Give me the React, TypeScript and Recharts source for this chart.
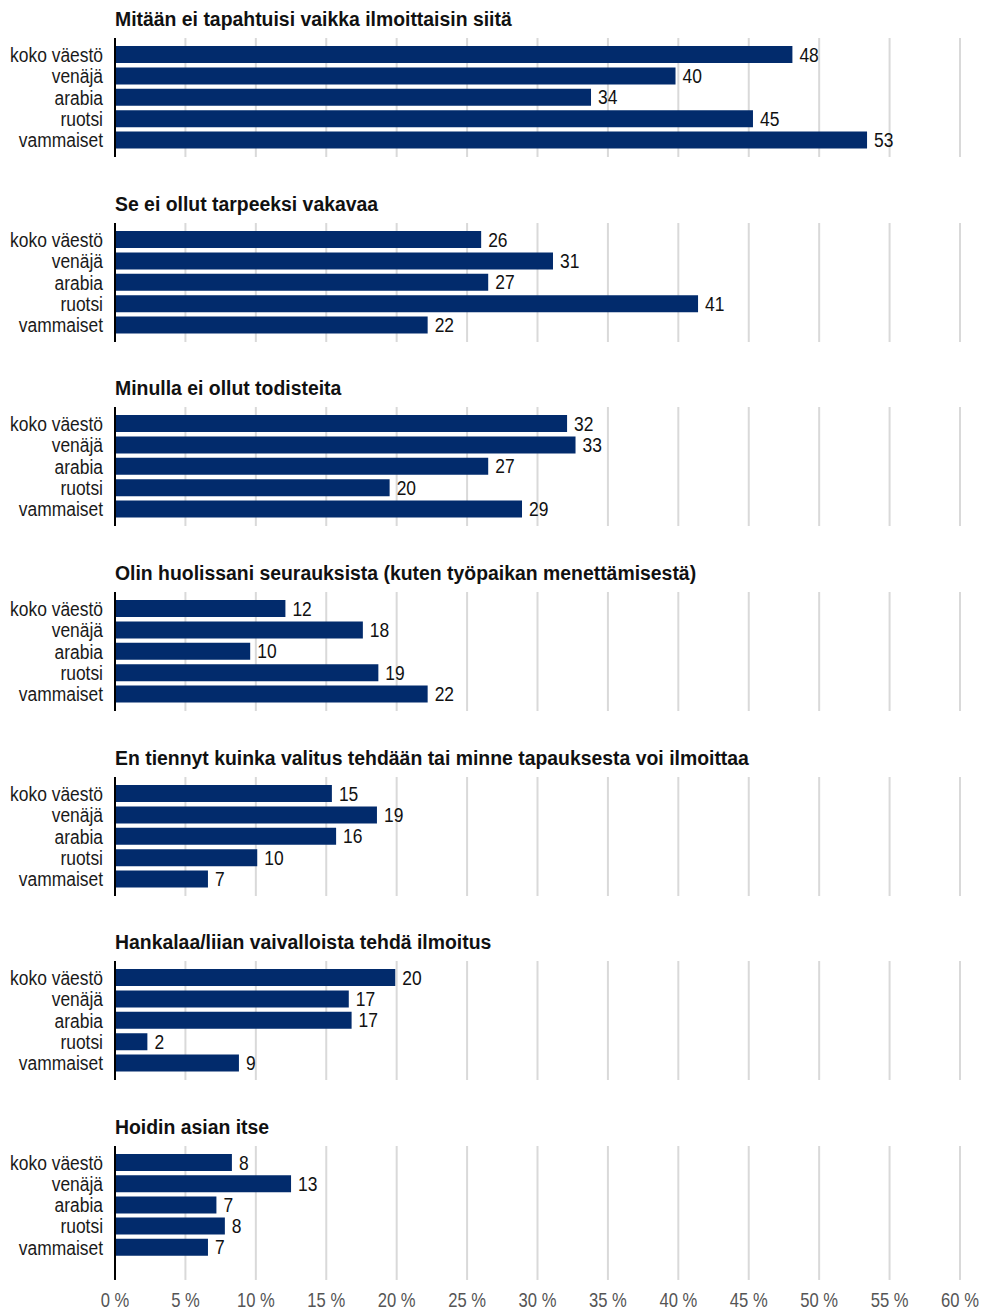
import React from 'react';
import { BarChart, Bar, XAxis, YAxis, CartesianGrid, LabelList } from 'recharts';

const categories = ['koko väestö', 'venäjä', 'arabia', 'ruotsi', 'vammaiset'];

const titles = [
  'Mitään ei tapahtuisi vaikka ilmoittaisin siitä',
  'Se ei ollut tarpeeksi vakavaa',
  'Minulla ei ollut todisteita',
  'Olin huolissani seurauksista (kuten työpaikan menettämisestä)',
  'En tiennyt kuinka valitus tehdään tai minne tapauksesta voi ilmoittaa',
  'Hankalaa/liian vaivalloista tehdä ilmoitus',
  'Hoidin asian itse',
];

const mitaanEi = [48.1, 39.8, 33.8, 45.3, 53.4];
const eiVakavaa = [26.0, 31.1, 26.5, 41.4, 22.2];
const eiTodisteita = [32.1, 32.7, 26.5, 19.5, 28.9];
const huolissani = [12.1, 17.6, 9.6, 18.7, 22.2];
const enTiennyt = [15.4, 18.6, 15.7, 10.1, 6.6];
const hankalaa = [19.9, 16.6, 16.8, 2.3, 8.8];
const hoidinItse = [8.3, 12.5, 7.2, 7.8, 6.6];

const seriesList = [mitaanEi, eiVakavaa, eiTodisteita, huolissani, enTiennyt, hankalaa, hoidinItse];

const xTicks = [0, 5, 10, 15, 20, 25, 30, 35, 40, 45, 50, 55, 60];

const FONT = "'Liberation Sans', Arial, sans-serif";
const SX = 0.83;
const PANEL_STEP = 184.67;

function CondText({ x, y, anchor, size, fill, weight, dy, children }: any) {
  return (
    <text
      transform={`translate(${x},${y}) scale(${SX},1)`}
      x={0}
      y={0}
      dy={dy}
      textAnchor={anchor}
      fontSize={size}
      fill={fill}
      fontWeight={weight || 'normal'}
      fontFamily={FONT}
    >
      {children}
    </text>
  );
}

const YTick = (props: any) => {
  const { x, y, payload } = props;
  return (
    <CondText x={x} y={y} anchor="end" size={21} fill="#1a1a1a" dy="0.34em">
      {payload.value}
    </CondText>
  );
};

const XTick = (props: any) => {
  const { x, y, payload } = props;
  return (
    <CondText x={x} y={y + 19} anchor="middle" size={20} fill="#555">
      {`${payload.value} %`}
    </CondText>
  );
};

const ValueLabel = (props: any) => {
  const { x, y, width, height, value } = props;
  return (
    <CondText x={Number(x) + Number(width) + 7} y={Number(y) + Number(height) / 2} anchor="start" size={21} fill="#111" dy="0.34em">
      {Math.round(Number(value))}
    </CondText>
  );
};

function Panel({ title, values, index }: { title: string; values: number[]; index: number }) {
  const isLast = index === seriesList.length - 1;
  const data = categories.map((c, i) => ({ name: c, value: values[i] }));
  const top = index * PANEL_STEP;
  const height = isLast ? 1312 - top : 185;
  return (
    <div style={{ position: 'absolute', left: 0, top, width: 983, height }}>
      <div
        style={{
          position: 'absolute',
          left: 115,
          top: 9,
          fontSize: 20,
          lineHeight: '20px',
          fontWeight: 'bold',
          color: '#111',
          whiteSpace: 'nowrap',
          fontFamily: FONT,
          transform: 'scaleX(0.97)',
          transformOrigin: 'left top',
          zIndex: 2,
        }}
      >
        {title}
      </div>
      <BarChart
        width={983}
        height={height}
        data={data}
        layout="vertical"
        margin={{ top: 38, right: 23, bottom: isLast ? 0 : height - 157, left: 0 }}
        barSize={17}
      >
        <CartesianGrid horizontal={false} stroke="#d9d9d9" strokeWidth={2} />
        <XAxis
          type="number"
          domain={[0, 60]}
          ticks={xTicks}
          interval={0}
          hide={!isLast}
          height={32}
          axisLine={false}
          tickLine={false}
          tickSize={0}
          tickMargin={8}
          tick={<XTick />}
        />
        <YAxis
          type="category"
          dataKey="name"
          width={115}
          interval={0}
          axisLine={{ stroke: '#000', strokeWidth: 2 }}
          tickLine={false}
          tickSize={0}
          tickMargin={12}
          tick={<YTick />}
          padding={isLast ? { top: 6, bottom: 22 } : { top: 6, bottom: 6 }}
        />
        <Bar dataKey="value" fill="#022b6c" isAnimationActive={false}>
          <LabelList dataKey="value" content={<ValueLabel />} />
        </Bar>
      </BarChart>
    </div>
  );
}

export default function App() {
  return (
    <div style={{ position: 'absolute', left: 0, top: 0, width: 983, height: 1312, background: '#fff', fontFamily: FONT }}>
      {seriesList.map((vals, i) => (
        <Panel key={i} title={titles[i]} values={vals} index={i} />
      ))}
    </div>
  );
}
